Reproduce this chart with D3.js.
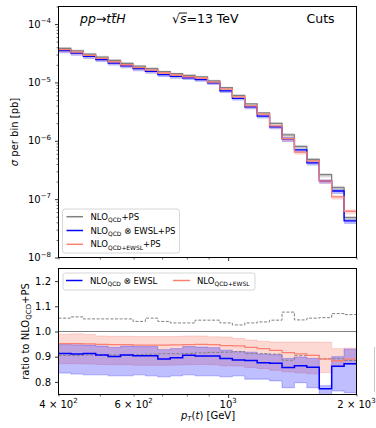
<!DOCTYPE html>
<html><head><meta charset="utf-8">
<script src="https://cdn.jsdelivr.net/npm/d3@7"></script>
<style>body{margin:0;background:#fff} svg{display:block} text{font-family:"DejaVu Sans",sans-serif;fill:#000}</style>
</head><body><svg id="c" width="376" height="428"></svg>
<script>
// ---------- data ----------
const binEdges = [400,427.74,457.41,489.14,523.07,559.35,598.15,639.64,684.01,731.45,782.18,836.43,894.45,956.49,1022.83,1093.77,1169.64,1250.77,1337.52,1430.29,1529.50,1635.59,1749.03,1870.34,2000];
const xTickValues = [400,600,1000,2000];
const xTickBase = ["4 × 10","6 × 10","10","2 × 10"];
const xTickExp = ["2","2","3","3"];
const xMinorTicks = [500,700,800,900];
const yTopTicks = [1e-8,1e-7,1e-6,1e-5,1e-4];
const yTopTickExp = ["−8","−7","−6","−5","−4"];
const yBotTicks = [0.8,0.9,1.0,1.1,1.2];
const yBotTickLabels = ["0.8","0.9","1.0","1.1","1.2"];

// sigma per bin [pb]
const sigmaQCD      = [3.83e-5,3.48e-5,3.06e-5,2.72e-5,2.38e-5,2.12e-5,1.90e-5,1.72e-5,1.53e-5,1.42e-5,1.32e-5,1.24e-5,1.065e-5,8.14e-6,5.98e-6,4.30e-6,3.01e-6,1.98e-6,1.26e-6,7.98e-7,4.78e-7,2.64e-7,1.58e-7,4.83e-8];
const sigmaQCDxEWSL = [3.50e-5,3.17e-5,2.79e-5,2.47e-5,2.14e-5,1.92e-5,1.72e-5,1.55e-5,1.36e-5,1.27e-5,1.20e-5,1.12e-5,9.85e-6,7.18e-6,5.32e-6,3.82e-6,2.64e-6,1.73e-6,1.08e-6,6.98e-7,4.18e-7,2.05e-7,1.38e-7,4.23e-8];
const sigmaQCDpEWSL = [3.65e-5,3.31e-5,2.91e-5,2.58e-5,2.26e-5,2.01e-5,1.80e-5,1.63e-5,1.45e-5,1.34e-5,1.25e-5,1.19e-5,1.01e-5,7.67e-6,5.66e-6,3.97e-6,2.86e-6,1.80e-6,1.09e-6,6.37e-7,4.52e-7,2.05e-7,1.09e-7,6.20e-8];

// scale-variation envelope of NLO_QCD+PS (relative)
const scaleUp   = [1.053,1.058,1.05,1.05,1.05,1.05,1.04,1.053,1.04,1.034,1.034,1.045,1.045,1.034,1.026,1.034,1.038,1.045,1.077,1.046,1.053,1.055,1.071,1.067];
const scaleDown = [0.905,0.905,0.907,0.907,0.907,0.907,0.908,0.91,0.912,0.912,0.913,0.915,0.917,0.918,0.92,0.912,0.912,0.91,0.886,0.904,0.905,0.892,0.892,0.885];

// ratios to NLO_QCD+PS
const ratioMult   = [0.913,0.911,0.913,0.907,0.901,0.907,0.904,0.904,0.891,0.896,0.906,0.903,0.903,0.893,0.887,0.885,0.876,0.874,0.857,0.864,0.858,0.773,0.862,0.872];
const ratioMultHi = [0.948,0.947,0.946,0.942,0.937,0.942,0.94,0.94,0.928,0.932,0.94,0.938,0.936,0.926,0.92,0.918,0.91,0.908,0.893,0.898,0.893,0.785,0.9,0.93];
const ratioMultLo = [0.835,0.831,0.828,0.828,0.824,0.824,0.828,0.824,0.82,0.824,0.828,0.824,0.824,0.82,0.824,0.811,0.811,0.804,0.777,0.797,0.777,0.74,0.764,0.757];
const ratioAdd    = [0.952,0.952,0.951,0.949,0.948,0.948,0.946,0.946,0.946,0.947,0.948,0.949,0.948,0.944,0.943,0.937,0.932,0.925,0.916,0.911,0.905,0.89,0.884,0.89];
const ratioAddHi  = [0.989,0.991,0.988,0.982,0.981,0.981,0.98,0.98,0.98,0.98,0.982,0.982,0.979,0.978,0.972,0.966,0.961,0.958,0.958,0.958,0.958,0.957,0.932,0.934];
const ratioAddLo  = [0.872,0.872,0.871,0.869,0.868,0.868,0.866,0.866,0.866,0.867,0.868,0.869,0.868,0.864,0.863,0.857,0.853,0.846,0.84,0.836,0.832,0.837,0.86,0.87];

// ---------- layout ----------
const COL_GRAY = "#808080", COL_BLUE = "#0000ff", COL_RED = "#fa8072";
const L = 58.5, R = 356.5, T1 = 6.5, B1 = 257.5, T2 = 268.5, B2 = 394.5;
const svg = d3.select("#c");
const x = d3.scaleLog().domain([400,2000]).range([L,R]);
const yTop = d3.scaleLog().domain([1e-8,2e-4]).range([B1,T1]);
const yBot = d3.scaleLinear().domain([0.75,1.25]).range([B2,T2]);

const defs = svg.append("defs");
defs.append("clipPath").attr("id","cTop").append("rect").attr("x",L).attr("y",T1).attr("width",R-L).attr("height",B1-T1);
defs.append("clipPath").attr("id","cBot").append("rect").attr("x",L).attr("y",T2).attr("width",R-L).attr("height",B2-T2);

function stepPts(vals, lo, hi){
  const pts = vals.map((v,i)=>[binEdges[i], v, lo?lo[i]:v, hi?hi[i]:v]);
  const n = vals.length-1;
  pts.push([binEdges[vals.length], vals[n], lo?lo[n]:vals[n], hi?hi[n]:vals[n]]);
  return pts;
}
function lineGen(ys){ return d3.line().x(d=>x(d[0])).y(d=>ys(d[1])).curve(d3.curveStepAfter); }
function areaGen(ys){ return d3.area().x(d=>x(d[0])).y0(d=>ys(d[2])).y1(d=>ys(d[3])).curve(d3.curveStepAfter); }

// ---------- top panel ----------
const gT = svg.append("g").attr("clip-path","url(#cTop)");
[[sigmaQCD,COL_GRAY],[sigmaQCDxEWSL,COL_BLUE],[sigmaQCDpEWSL,COL_RED]].forEach(([s,c])=>{
  const lo = s.map((v,i)=>v*scaleDown[i]), hi = s.map((v,i)=>v*scaleUp[i]);
  gT.append("path").attr("d",areaGen(yTop)(stepPts(s,lo,hi))).attr("fill",c).attr("fill-opacity",0.28).attr("stroke","none");
});
[[sigmaQCD,COL_GRAY,1.3],[sigmaQCDxEWSL,COL_BLUE,1.3],[sigmaQCDpEWSL,COL_RED,1.3]].forEach(([s,c,w])=>{
  gT.append("path").attr("d",lineGen(yTop)(stepPts(s))).attr("fill","none").attr("stroke",c).attr("stroke-width",w);
});

// ---------- bottom panel ----------
const gB = svg.append("g").attr("clip-path","url(#cBot)");
gB.append("path").attr("d",areaGen(yBot)(stepPts(ratioAdd,ratioAddLo,ratioAddHi))).attr("fill",COL_RED).attr("fill-opacity",0.3).attr("stroke",COL_RED).attr("stroke-opacity",0.3).attr("stroke-width",1);
gB.append("path").attr("d",areaGen(yBot)(stepPts(ratioMult,ratioMultLo,ratioMultHi))).attr("fill",COL_BLUE).attr("fill-opacity",0.25).attr("stroke",COL_BLUE).attr("stroke-opacity",0.25).attr("stroke-width",1);
gB.append("line").attr("x1",L).attr("x2",R).attr("y1",yBot(1)).attr("y2",yBot(1)).attr("stroke",COL_GRAY).attr("stroke-width",1.2);
[scaleUp,scaleDown].forEach(s=>{
  gB.append("path").attr("d",lineGen(yBot)(stepPts(s))).attr("fill","none").attr("stroke",COL_GRAY).attr("stroke-width",1).attr("stroke-dasharray","3,1.6");
});
gB.append("path").attr("d",lineGen(yBot)(stepPts(ratioAdd))).attr("fill","none").attr("stroke",COL_RED).attr("stroke-width",1.3);
gB.append("path").attr("d",lineGen(yBot)(stepPts(ratioMult))).attr("fill","none").attr("stroke",COL_BLUE).attr("stroke-width",1.5);

// ---------- axes ----------
function styleAxis(g){ g.select(".domain").remove(); g.selectAll(".tick line").attr("stroke","#000").attr("stroke-width",0.8); g.selectAll(".tick text").remove(); }
// top y
const yMinor = [];
for(let d=-8; d<=-4; d++) for(let k=2;k<=9;k++){ const v=k*Math.pow(10,d); if(v<=2e-4) yMinor.push(v); }
svg.append("g").attr("transform",`translate(${L},0)`).call(d3.axisLeft(yTop).tickValues(yTopTicks).tickSize(3.5)).call(styleAxis);
svg.append("g").attr("transform",`translate(${L},0)`).call(d3.axisLeft(yTop).tickValues(yMinor).tickSize(2)).call(d=>{styleAxis(d); d.selectAll(".tick line").attr("stroke-width",0.6);});
yTopTicks.forEach((v,i)=>{
  const t = svg.append("text").attr("x",51).attr("y",yTop(v)+3.6).attr("text-anchor","end").attr("font-size",10);
  t.append("tspan").text("10");
  t.append("tspan").attr("font-size",7).attr("dy",-4.5).text(yTopTickExp[i]);
});
// bottom y
svg.append("g").attr("transform",`translate(${L},0)`).call(d3.axisLeft(yBot).tickValues(yBotTicks).tickSize(3.5)).call(styleAxis);
yBotTicks.forEach((v,i)=>{
  svg.append("text").attr("x",51).attr("y",yBot(v)+3.6).attr("text-anchor","end").attr("font-size",10).text(yBotTickLabels[i]);
});
// x axes (both panels)
[B1,B2].forEach(yy=>{
  svg.append("g").attr("transform",`translate(0,${yy})`).call(d3.axisBottom(x).tickValues([1000]).tickSize(3.5)).call(styleAxis);
  svg.append("g").attr("transform",`translate(0,${yy})`).call(d3.axisBottom(x).tickValues([400,600,2000].concat(xMinorTicks)).tickSize(2)).call(d=>{styleAxis(d); d.selectAll(".tick line").attr("stroke-width",0.6);});
});
xTickValues.forEach((v,i)=>{
  const t = svg.append("text").attr("x",x(v)).attr("y",407.5).attr("text-anchor","middle").attr("font-size",10);
  t.append("tspan").text(xTickBase[i]);
  t.append("tspan").attr("font-size",7).attr("dy",-4.5).text(xTickExp[i]);
});

// frames
svg.append("rect").attr("x",L).attr("y",T1).attr("width",R-L).attr("height",B1-T1).attr("fill","none").attr("stroke","#000").attr("stroke-width",1);
svg.append("rect").attr("x",L).attr("y",T2).attr("width",R-L).attr("height",B2-T2).attr("fill","none").attr("stroke","#000").attr("stroke-width",1);

// ---------- labels ----------
function rich(parent, px, py, parts, size, anchor, rotate){
  const t = parent.append("text").attr("x",px).attr("y",py).attr("font-size",size).attr("text-anchor",anchor||"start");
  if(rotate) t.attr("transform",`rotate(${rotate},${px},${py})`);
  let shift = 0;
  parts.forEach(p=>{
    const s = t.append("tspan").text(p.t);
    const target = p.sub ? 2.2 : 0;
    if(target!==shift){ s.attr("dy", target-shift); shift = target; }
    s.attr("font-size", p.sub ? size*0.7 : size);
    if(p.it) s.attr("font-style","italic");
  });
  return t;
}
rich(svg, 18, (T1+B1)/2, [{t:"σ",it:true},{t:" per bin [pb]"}], 10, "middle", -90);
rich(svg, 29, (T2+B2)/2, [{t:"ratio to NLO"},{t:"QCD",sub:true},{t:"+PS"}], 10, "middle", -90);
rich(svg, 208, 419, [{t:"p",it:true},{t:"T",sub:true,it:true},{t:"("},{t:"t",it:true},{t:") [GeV]"}], 10, "middle");

// process label
const proc = svg.append("text").attr("x",80).attr("y",23.3).attr("font-size",12.5);
proc.append("tspan").attr("font-style","italic").text("pp");
proc.append("tspan").text("→");
proc.append("tspan").attr("font-style","italic").text("ttH");
(function(){ const n = proc.node(); const a = n.getStartPositionOfChar(4).x, b = n.getEndPositionOfChar(4).x;
  svg.append("line").attr("x1",a+0.8).attr("x2",b+0.8).attr("y1",13.8).attr("y2",13.8).attr("stroke","#000").attr("stroke-width",0.9); })();
const rs = svg.append("text").attr("x",172).attr("y",23.3).attr("font-size",12.5);
rs.append("tspan").text("√");
rs.append("tspan").attr("font-style","italic").text("s");
rs.append("tspan").text("=13 TeV");
(function(){ const n = rs.node(); const a = n.getEndPositionOfChar(0).x - 0.8, b = n.getEndPositionOfChar(1).x + 0.5;
  svg.append("line").attr("x1",a).attr("x2",b).attr("y1",13.0).attr("y2",13.0).attr("stroke","#000").attr("stroke-width",0.9); })();
svg.append("text").attr("x",306.5).attr("y",23.3).attr("font-size",12.5).text("Cuts");

// ---------- legends ----------
const lg1 = svg.append("g");
lg1.append("rect").attr("x",62.5).attr("y",209).attr("width",117).attr("height",44).attr("rx",2.5).attr("fill","#fff").attr("fill-opacity",0.8).attr("stroke","#cccccc").attr("stroke-width",0.8);
const leg1 = [
  {c:COL_GRAY, parts:[{t:"NLO"},{t:"QCD",sub:true},{t:"+PS"}]},
  {c:COL_BLUE, parts:[{t:"NLO"},{t:"QCD",sub:true},{t:" ⊗ EWSL+PS"}]},
  {c:COL_RED,  parts:[{t:"NLO"},{t:"QCD+EWSL",sub:true},{t:"+PS"}]}
];
leg1.forEach((e,i)=>{
  const yy = 216.7 + i*13.8;
  lg1.append("line").attr("x1",66.5).attr("x2",83).attr("y1",yy).attr("y2",yy).attr("stroke",e.c).attr("stroke-width",1.5);
  rich(lg1, 90.5, yy+3, e.parts, 8.5, "start");
});
const lg2 = svg.append("g");
lg2.append("rect").attr("x",63).attr("y",273).attr("width",192).attr("height",17).attr("rx",2.5).attr("fill","#fff").attr("fill-opacity",0.8).attr("stroke","#cccccc").attr("stroke-width",0.8);
lg2.append("line").attr("x1",66).attr("x2",82.5).attr("y1",280.5).attr("y2",280.5).attr("stroke",COL_BLUE).attr("stroke-width",1.5);
rich(lg2, 90, 283.5, [{t:"NLO"},{t:"QCD",sub:true},{t:" ⊗ EWSL"}], 8.5, "start");
lg2.append("line").attr("x1",173).attr("x2",190).attr("y1",280.5).attr("y2",280.5).attr("stroke",COL_RED).attr("stroke-width",1.5);
rich(lg2, 197, 283.5, [{t:"NLO"},{t:"QCD+EWSL",sub:true}], 8.5, "start");

// stray edge line present in the reference image
svg.append("line").attr("x1",374.5).attr("x2",374.5).attr("y1",347).attr("y2",392).attr("stroke","#c8c8c8").attr("stroke-width",1);
</script></body></html>
